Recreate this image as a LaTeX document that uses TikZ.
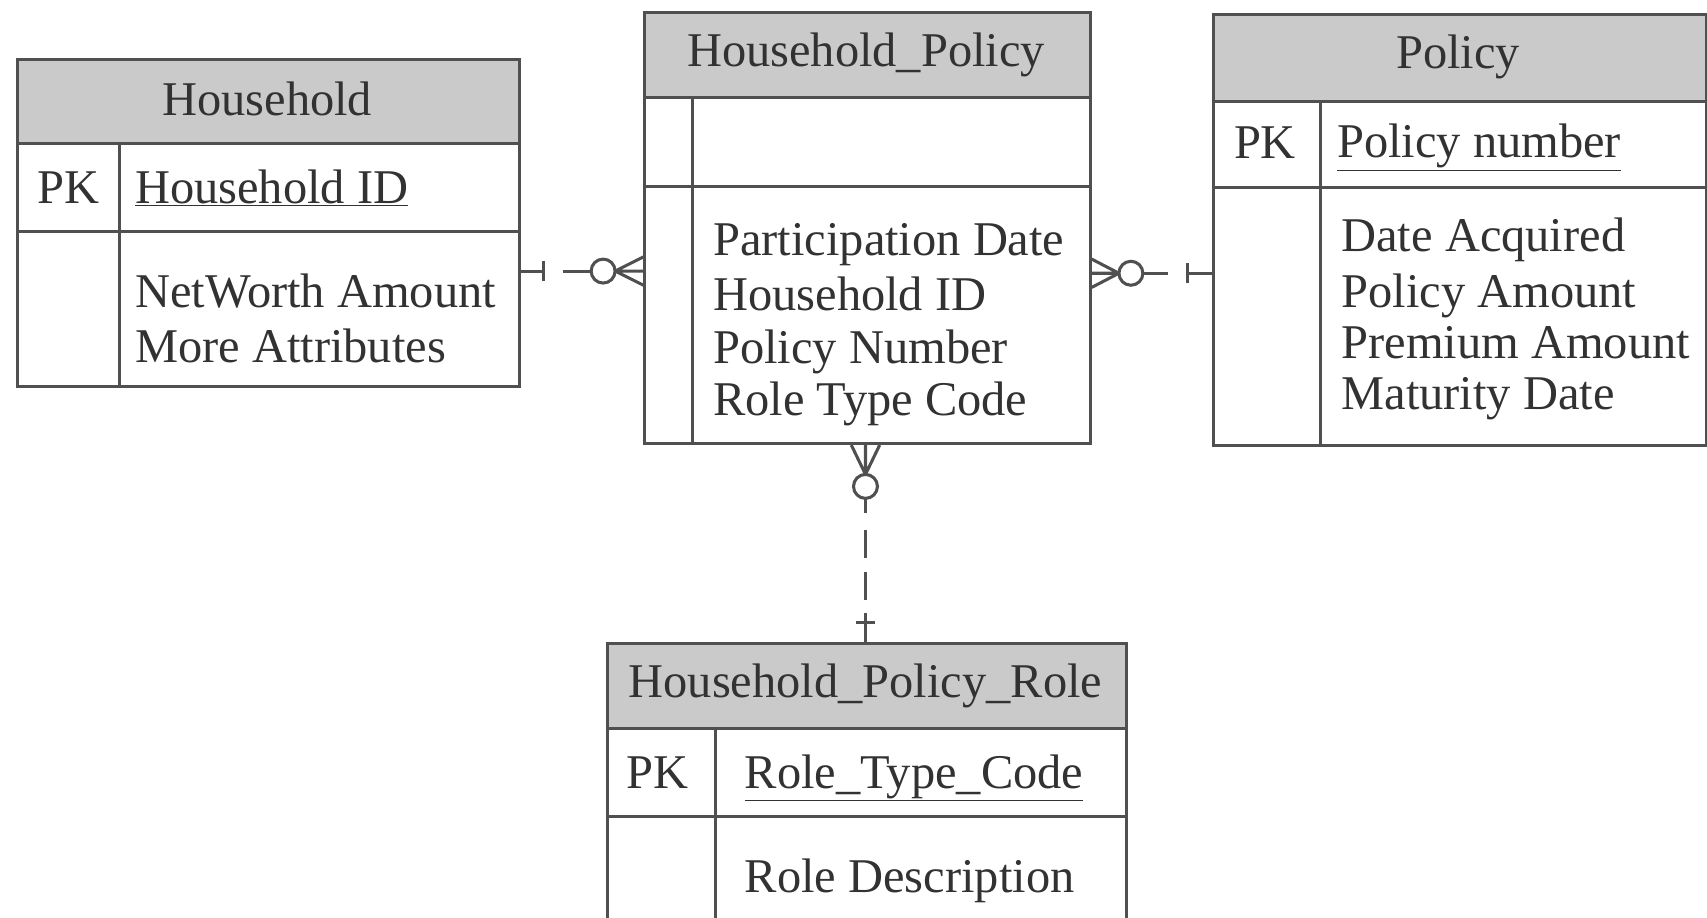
\documentclass[tikz,border=0pt]{standalone}
\usepackage{fontspec}
\setmainfont{Liberation Serif}
\usetikzlibrary{calc}
\definecolor{ln}{RGB}{80,80,80}
\definecolor{hdr}{RGB}{202,202,202}
\definecolor{tx}{RGB}{50,50,50}
\begin{document}
\begin{tikzpicture}[x=1pt,y=-1pt,
  hdrbox/.style={draw=ln, fill=hdr, line width=2.8pt, rectangle, inner sep=0pt, anchor=north west},
  bodybox/.style={draw=ln, line width=2.8pt, rectangle, inner sep=0pt, anchor=north west},
  sep/.style={draw=ln, line width=2.8pt},
  rel/.style={draw=ln, line width=2.8pt},
  txt/.style={text=tx, inner sep=0pt, font=\fontsize{44.5}{50}\selectfont},
  lt/.style={txt, anchor=base west},
  ct/.style={txt, anchor=base}
]
\useasboundingbox[fill=white] (0,0) rectangle (1568,843);
\clip (0,0) rectangle (1568,843);

% ---------- Household ----------
\node[hdrbox, minimum width=461, minimum height=77] (hhH) at (15,53) {};
\node[bodybox, minimum width=461, minimum height=224] (hh) at (15,130) {};
\draw[sep] ($(hh.north west)+(0,83)$) -- ($(hh.north east)+(0,83)$);
\draw[sep] ($(hh.north west)+(95,0)$) -- ($(hh.south west)+(95,0)$);
\node[ct] (hhT) at (245.5,106) {Household};
\node[ct] (hhPK) at (63,187) {PK};
\node[lt] (hhK) at (124,187) {\underline{Household ID}};
\node[lt] (hhA1) at (124,282) {NetWorth Amount};
\node[lt] (hhA2) at (124,333) {More Attributes};

% ---------- Household_Policy ----------
\node[hdrbox, minimum width=409, minimum height=78] (hpH) at (591,10) {};
\node[bodybox, minimum width=409, minimum height=318] (hp) at (591,88) {};
\draw[sep] ($(hp.north west)+(0,83)$) -- ($(hp.north east)+(0,83)$);
\draw[sep] ($(hp.north west)+(45,0)$) -- ($(hp.south west)+(45,0)$);
\node[ct] (hpT) at (795.5,61) {Household\_Policy};
\node[lt] (hpA1) at (655,235) {Participation Date};
\node[lt] (hpA2) at (655,285) {Household ID};
\node[lt] (hpA3) at (655,334) {Policy Number};
\node[lt] (hpA4) at (655,382) {Role Type Code};

% ---------- Policy ----------
\node[hdrbox, minimum width=453, minimum height=80] (poH) at (1113,12) {};
\node[bodybox, minimum width=453, minimum height=316] (po) at (1113,92) {};
\draw[sep] ($(po.north west)+(0,80)$) -- ($(po.north east)+(0,80)$);
\draw[sep] ($(po.north west)+(100,0)$) -- ($(po.south west)+(100,0)$);
\node[ct] (poT) at (1339.5,63) {Policy};
\node[ct] (poPK) at (1162,146) {PK};
\node[lt] (poK) at (1228,145) {\underline{Policy number}};
\node[lt] (poA1) at (1232,231) {Date Acquired};
\node[lt] (poA2) at (1232,282) {Policy Amount};
\node[lt] (poA3) at (1232,329) {Premium Amount};
\node[lt] (poA4) at (1232,376) {Maturity Date};

% ---------- Household_Policy_Role ----------
\node[hdrbox, minimum width=476, minimum height=78] (hrH) at (557,590) {};
\node[bodybox, minimum width=476, minimum height=230] (hr) at (557,668) {};
\draw[sep] ($(hr.north west)+(0,82)$) -- ($(hr.north east)+(0,82)$);
\draw[sep] ($(hr.north west)+(100,0)$) -- ($(hr.south west)+(100,0)$);
\node[ct] (hrT) at (795,641) {Household\_Policy\_Role};
\node[ct] (hrPK) at (604,724) {PK};
\node[lt] (hrK) at (684,724) {\underline{Role\_Type\_Code}};
\node[lt] (hrA1) at (684,820) {Role Description};

% ---------- connectors ----------
\coordinate (ya) at (0,249);
\coordinate (yb) at (0,251);
\coordinate (xc) at (795,0);

% Household -> Household_Policy
\coordinate (aL) at (hh.east |- ya);
\coordinate (aR) at (hp.west |- ya);
\draw[rel, dash pattern=on 20pt off 18pt on 40pt off 0pt] (aL) -- ($(aR)+(-48,0)$);
\draw[rel] ($(aL)+(20,-9)$) -- ($(aL)+(20,9)$);
\draw[rel] ($(aR)+(-37,0)$) circle[radius=11];
\draw[rel] ($(aR)+(-26,0)$) -- (aR)
           ($(aR)+(-26,0)$) -- ($(aR)+(0,-13)$)
           ($(aR)+(-26,0)$) -- ($(aR)+(0,13)$);

% Policy -> Household_Policy
\coordinate (bL) at (hp.east |- yb);
\coordinate (bR) at (po.west |- yb);
\draw[rel, dash pattern=on 22pt off 18pt on 40pt off 0pt] (bR) -- ($(bL)+(47,0)$);
\draw[rel] ($(bR)+(-22,-9)$) -- ($(bR)+(-22,9)$);
\draw[rel] ($(bL)+(36,0)$) circle[radius=11];
\draw[rel] ($(bL)+(25,0)$) -- (bL)
           ($(bL)+(25,0)$) -- ($(bL)+(0,-13)$)
           ($(bL)+(25,0)$) -- ($(bL)+(0,13)$);

% Household_Policy_Role -> Household_Policy
\coordinate (cT) at (hp.south -| xc);
\coordinate (cB) at (hrH.north -| xc);
\draw[rel, dash pattern=on 27pt off 12pt on 26pt off 12pt on 26pt off 16pt on 40pt off 0pt] (cB) -- ($(cT)+(0,49)$);
\draw[rel] ($(cB)+(-9,-18)$) -- ($(cB)+(9,-18)$);
\draw[rel] ($(cT)+(0,38)$) circle[radius=11];
\draw[rel] ($(cT)+(0,27)$) -- (cT)
           ($(cT)+(0,27)$) -- ($(cT)+(-13,0)$)
           ($(cT)+(0,27)$) -- ($(cT)+(13,0)$);
\end{tikzpicture}
\end{document}
